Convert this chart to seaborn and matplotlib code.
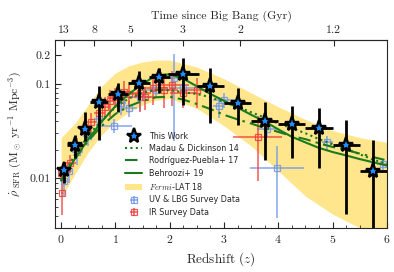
import numpy as np
import pandas as pd
import seaborn as sns
import matplotlib
matplotlib.use("Agg")
import matplotlib.pyplot as plt
from matplotlib.lines import Line2D
from matplotlib.ticker import LogLocator, NullFormatter, FixedLocator, FixedFormatter

# This work (stars)
star_z = [0.05, 0.26, 0.44, 0.70, 1.05, 1.44, 1.81, 2.25, 2.75, 3.25, 3.75, 4.25, 4.75, 5.25, 5.75]
star_dz = [0.05, 0.15, 0.10, 0.17, 0.18, 0.20, 0.20, 0.28, 0.25, 0.25, 0.25, 0.25, 0.25, 0.25, 0.25]
star_sfr = [0.0122, 0.0224, 0.0332, 0.0644, 0.0783, 0.1025, 0.1186, 0.1276, 0.0953, 0.0628,
            0.0403, 0.0375, 0.0340, 0.0224, 0.0119]
star_hi = [0.0148, 0.0287, 0.0504, 0.095, 0.102, 0.137, 0.148, 0.189, 0.145, 0.0906,
           0.0644, 0.0583, 0.0556, 0.0414, 0.0253]
star_lo = [0.0089, 0.0163, 0.025, 0.0254, 0.0504, 0.0676, 0.080, 0.0598, 0.0385, 0.0366,
           0.0155, 0.0163, 0.0128, 0.00425, 0.001]

# model curves
curve_z = [0, 0.25, 0.5, 0.75, 1, 1.25, 1.5, 1.75, 2, 2.25, 2.5, 2.75, 3, 3.25, 3.5, 3.75,
           4, 4.25, 4.5, 4.75, 5, 5.25, 5.5, 5.75, 6]
madau = [0.0097, 0.0177, 0.0284, 0.0417, 0.0563, 0.0701, 0.0806, 0.0859, 0.0857, 0.0812,
         0.078, 0.072, 0.064, 0.057, 0.050, 0.044, 0.038, 0.034, 0.030, 0.026, 0.023,
         0.0205, 0.018, 0.0158, 0.0142]
puebla = [0.0095, 0.016, 0.025, 0.036, 0.048, 0.058, 0.066, 0.072, 0.073, 0.068, 0.061,
          0.054, 0.047, 0.042, 0.038, 0.034, 0.031, 0.028, 0.026, 0.0235, 0.0215, 0.020,
          0.0183, 0.0168, 0.0155]
behroozi = [0.0095, 0.016, 0.026, 0.040, 0.058, 0.078, 0.100, 0.122, 0.126, 0.113, 0.094,
            0.078, 0.066, 0.056, 0.047, 0.040, 0.033, 0.0275, 0.024, 0.021, 0.019, 0.0175,
            0.016, 0.0148, 0.0137]
fermi_z = [0, 0.25, 0.5, 0.75, 1, 1.25, 1.5, 1.75, 2, 2.5, 3, 3.5, 4, 4.5, 5, 5.5, 6]
fermi_hi = [0.027, 0.038, 0.060, 0.095, 0.13, 0.155, 0.17, 0.178, 0.178, 0.15, 0.113,
            0.080, 0.057, 0.042, 0.032, 0.027, 0.024]
fermi_lo = [0.0062, 0.011, 0.019, 0.029, 0.040, 0.050, 0.060, 0.067, 0.070, 0.055, 0.036,
            0.022, 0.012, 0.0065, 0.0042, 0.0030, 0.0022]

# UV & LBG survey data
uv_z = [0.05, 0.15, 0.3, 0.5, 0.7, 0.98, 1.1, 1.25, 1.45, 1.75, 2.07, 2.25, 2.9, 3.0, 3.8,
        3.98, 4.9, 5.92]
uv_dz = [0.05, 0.05, 0.1, 0.1, 0.1, 0.33, 0.1, 0.15, 0.2, 0.25, 0.2, 0.25, 0.1, 0.2, 0.2,
         0.5, 0.1, 0.1]
uv_sfr = [0.0095, 0.012, 0.019, 0.028, 0.042, 0.036, 0.062, 0.055, 0.072, 0.085, 0.115,
          0.090, 0.058, 0.068, 0.033, 0.0128, 0.024, 0.0142]
uv_err = [0.003, 0.003, 0.005, 0.006, 0.01, 0.006, 0.015, 0.01, 0.02, 0.015, 0.09,
          0.02, 0.015, 0.012, 0.006, 0.009, 0.004, 0.002]

# IR survey data
ir_z = [0.0, 0.02, 0.17, 0.3, 0.45, 0.55, 0.7, 0.8, 0.9, 1.0, 1.15, 1.25, 1.45, 1.55, 1.7,
        1.9, 2.05, 2.25, 2.5, 3.62]
ir_dz = [0.02, 0.02, 0.1, 0.1, 0.1, 0.1, 0.1, 0.1, 0.1, 0.15, 0.15, 0.2, 0.2, 0.2, 0.25,
         0.25, 0.3, 0.25, 0.3, 0.45]
ir_sfr = [0.0115, 0.0071, 0.0145, 0.022, 0.032, 0.039, 0.049, 0.057, 0.065, 0.073, 0.082,
          0.078, 0.080, 0.073, 0.090, 0.086, 0.098, 0.080, 0.085, 0.0273]
ir_err = [0.002, 0.003, 0.003, 0.005, 0.008, 0.01, 0.012, 0.015, 0.02, 0.018, 0.025,
          0.02, 0.03, 0.02, 0.03, 0.03, 0.04, 0.025, 0.03, 0.018]

top_labels = ["13", "8", "5", "3", "2", "1.2"]
top_z = [0.05, 0.61, 1.28, 2.24, 3.3, 5.02]

sns.set_style("ticks")
plt.rcParams["font.family"] = ["serif"]
plt.rcParams["font.serif"] = ["cmr10", "DejaVu Serif"]
plt.rcParams["mathtext.fontset"] = "cm"
plt.rcParams["axes.formatter.use_mathtext"] = True
plt.rcParams["xtick.direction"] = "in"
plt.rcParams["ytick.direction"] = "in"

fig = plt.figure(figsize=(3.94, 2.72), dpi=100)
ax = fig.add_axes([0.140, 0.162, 0.842, 0.691])

green = "#1b7a1b"
band = "#ffe68c"
ax.fill_between(fermi_z, fermi_lo, fermi_hi, color=band, lw=0, zorder=0)

df = pd.DataFrame({"z": curve_z, "madau": madau, "puebla": puebla, "behroozi": behroozi})
sns.lineplot(data=df, x="z", y="madau", ax=ax, color=green, lw=1.5, ls=(0, (1, 1.6)), zorder=3)
sns.lineplot(data=df, x="z", y="puebla", ax=ax, color=green, lw=1.5, ls=(0, (6, 2.5, 1.2, 2.5)), zorder=3)
sns.lineplot(data=df, x="z", y="behroozi", ax=ax, color=green, lw=1.5, zorder=3)

uv_col = "#6f95ea"
ir_col = "#f03c3c"
ax.errorbar(uv_z, uv_sfr, xerr=uv_dz, yerr=uv_err, fmt="s", ms=4.5, mfc="none",
            mec=uv_col, ecolor=uv_col, elinewidth=1.1, mew=0.9, alpha=0.85, zorder=2)
ax.errorbar(ir_z, ir_sfr, xerr=ir_dz, yerr=ir_err, fmt="s", ms=4.5, mfc="none",
            mec=ir_col, ecolor=ir_col, elinewidth=1.1, mew=0.9, alpha=0.85, zorder=2)

s_lo = np.array(star_sfr) - np.array(star_lo)
s_hi = np.array(star_hi) - np.array(star_sfr)
ax.errorbar(star_z, star_sfr, xerr=star_dz, yerr=[s_lo, s_hi], fmt="none",
            ecolor="black", elinewidth=2.0, zorder=5)
ax.plot(star_z, star_sfr, ls="none", marker="*", ms=11, mfc="#1f8fff", mec="black",
        mew=1.7, zorder=6)

ax.set_yscale("log")
ax.set_xlim(-0.11, 6.0)
ax.set_ylim(0.003, 0.29)
ax.yaxis.set_major_locator(FixedLocator([0.01, 0.1, 0.2]))
ax.yaxis.set_major_formatter(FixedFormatter(["0.01", "0.1", "0.2"]))
ax.yaxis.set_minor_locator(LogLocator(subs=np.arange(2, 10)))
ax.yaxis.set_minor_formatter(NullFormatter())
ax.set_xticks(range(0, 7))
ax.set_xticks(np.arange(0, 6.01, 0.25), minor=True)
ax.tick_params(which="major", length=4, width=0.8, labelsize=8.5, top=False, right=False)
ax.tick_params(which="minor", length=2.2, width=0.6, top=False, right=False)
ax.set_xlabel(r"Redshift ($z$)", fontsize=9.5)
ax.set_ylabel(r"$\dot{\rho}_{\rm\ SFR}$ (M$_\odot$ yr$^{-1}$ Mpc$^{-3}$)", fontsize=8.5)

sec = ax.secondary_xaxis("top")
sec.set_xticks(top_z, top_labels)
sec.tick_params(direction="in", length=4, width=0.8, labelsize=8.5)
sec.set_xlabel("Time since Big Bang (Gyr)", fontsize=8.5, labelpad=5)

handles = [
    Line2D([], [], ls="none", marker="*", ms=11, mfc="#1f8fff", mec="black", mew=1.7),
    Line2D([], [], color=green, lw=1.5, ls=(0, (1, 1.6))),
    Line2D([], [], color=green, lw=1.5, ls=(0, (6, 2.5, 1.2, 2.5))),
    Line2D([], [], color=green, lw=1.5),
    plt.Rectangle((0, 0), 1, 1, color=band, lw=0),
    ax.containers[0],
    ax.containers[1],
]
labels = ["This Work", "Madau & Dickinson 14", "Rodríguez-Puebla+ 17", "Behroozi+ 19",
          r"$\mathit{Fermi}$-LAT 18", "UV & LBG Survey Data", "IR Survey Data"]
leg = ax.legend(handles, labels, loc="upper left", bbox_to_anchor=(0.2, 0.53),
                frameon=False, prop={"family": "DejaVu Sans", "size": 5.8},
                handlelength=2.2, handletextpad=0.8, labelspacing=0.42, borderaxespad=0)

fig.savefig("out.png", dpi=100)
